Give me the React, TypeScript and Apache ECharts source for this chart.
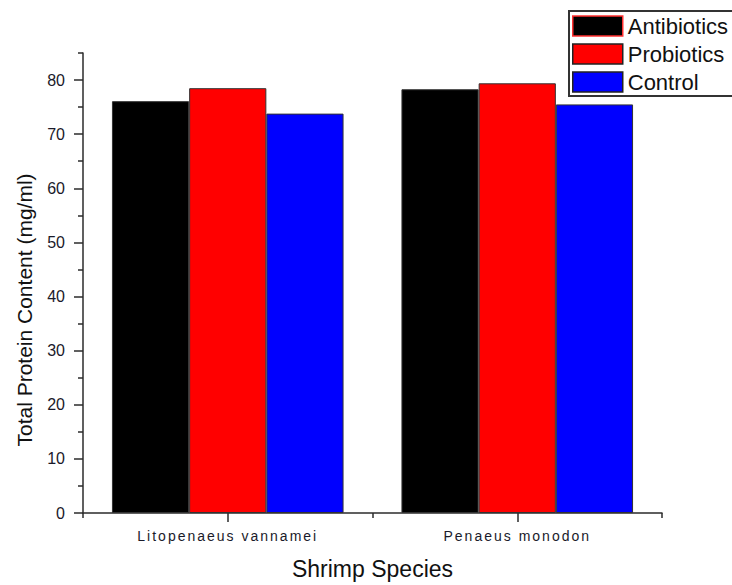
import React, { useEffect, useRef } from "react";
import * as echarts from "echarts";

const categories = ["Litopenaeus vannamei", "Penaeus monodon"];
const seriesNames = ["Antibiotics", "Probiotics", "Control"];
const antibiotics = [76.1, 78.3];
const probiotics = [78.5, 79.4];
const control = [73.8, 75.5];
const majorTicks = [0, 10, 20, 30, 40, 50, 60, 70, 80];
const minorTicks = [5, 15, 25, 35, 45, 55, 65, 75, 85];
const yTitle = "Total Protein Content (mg/ml)";
const xTitle = "Shrimp Species";

const FONT = '"Liberation Sans", Arial, sans-serif';
const AXIS = "#2b2b2b";

export default function App() {
  const ref = useRef<HTMLDivElement>(null);
  useEffect(() => {
    document.body.style.margin = "0";
    const el = ref.current!;
    const chart = echarts.init(el, null, { renderer: "svg" });
    const barStyle = (color: string) => ({ color, borderColor: "#333", borderWidth: 1 });
    const option: any = {
      animation: false,
      backgroundColor: "#fff",
      textStyle: { fontFamily: FONT },
      grid: { left: 83, right: 70, top: 53, bottom: 67, containLabel: false },
      legend: {
        orient: "vertical",
        left: 569,
        top: 11,
        padding: [4, 50, 3, 3],
        borderColor: "#333",
        borderWidth: 2,
        itemWidth: 50,
        itemHeight: 20,
        itemGap: 6,
        icon: "rect",
        itemStyle: { borderColor: "#222", borderWidth: 1.5 },
        textStyle: { fontSize: 22, fontFamily: FONT, color: "#111", lineHeight: 21 },
        data: [
          { name: seriesNames[0], itemStyle: { borderColor: "#ff3030", borderWidth: 1.5 } },
          { name: seriesNames[1] },
          { name: seriesNames[2] },
        ],
      },
      xAxis: [
        {
          type: "category",
          data: categories,
          position: "bottom",
          boundaryGap: true,
          name: xTitle,
          nameLocation: "middle",
          nameGap: 44,
          nameTextStyle: { fontSize: 23, fontFamily: FONT, color: "#111" },
          axisLine: { show: true, lineStyle: { color: AXIS, width: 1.5 } },
          axisTick: { show: true, alignWithLabel: true, length: 9, lineStyle: { color: AXIS, width: 1.5 } },
          axisLabel: { fontSize: 14, fontFamily: FONT, color: "#1a1a2a", margin: 16 },
          splitLine: { show: false },
        },
        {
          type: "category",
          data: categories,
          position: "bottom",
          boundaryGap: true,
          axisLine: { show: false },
          axisTick: { show: true, length: 5, lineStyle: { color: AXIS, width: 1.5 } },
          axisLabel: { show: false },
          splitLine: { show: false },
        },
      ],
      yAxis: [
        {
          type: "value",
          min: 0,
          max: 85,
          interval: 10,
          position: "left",
          axisLine: { show: true, lineStyle: { color: AXIS, width: 1.5 } },
          axisTick: { show: true, length: 9, customValues: majorTicks, lineStyle: { color: AXIS, width: 1.5 } },
          axisLabel: { fontSize: 16, fontFamily: FONT, color: "#1a1a2a", margin: 18, customValues: majorTicks },
          splitLine: { show: false },
        },
        {
          type: "value",
          min: 0,
          max: 85,
          interval: 5,
          position: "left",
          axisLine: { show: false },
          axisTick: { show: true, length: 5, customValues: minorTicks, lineStyle: { color: AXIS, width: 1.5 } },
          axisLabel: { show: false },
          splitLine: { show: false },
        },
      ],
      graphic: [
        {
          type: "text",
          x: 24,
          y: 310,
          rotation: Math.PI / 2,
          style: {
            text: yTitle,
            align: "center",
            verticalAlign: "middle",
            fontSize: 21,
            fontFamily: FONT,
            fill: "#111",
          },
        },
      ],
      series: [
        { name: seriesNames[0], type: "bar", data: antibiotics, barGap: "0%", barCategoryGap: "20%", itemStyle: barStyle("#000000") },
        { name: seriesNames[1], type: "bar", data: probiotics, barGap: "0%", barCategoryGap: "20%", itemStyle: barStyle("#ff0000") },
        { name: seriesNames[2], type: "bar", data: control, barGap: "0%", barCategoryGap: "20%", itemStyle: barStyle("#0000ff") },
      ],
    };
    const applySpacing = () => {
      el.querySelectorAll("text").forEach((t) => {
        if (categories.includes((t.textContent || "").trim())) {
          t.setAttribute("letter-spacing", "2");
        }
      });
    };
    chart.on("finished", applySpacing);
    chart.setOption(option);
    applySpacing();
    return () => {
      chart.dispose();
    };
  }, []);
  return <div ref={ref} style={{ width: 732, height: 585 }} />;
}
